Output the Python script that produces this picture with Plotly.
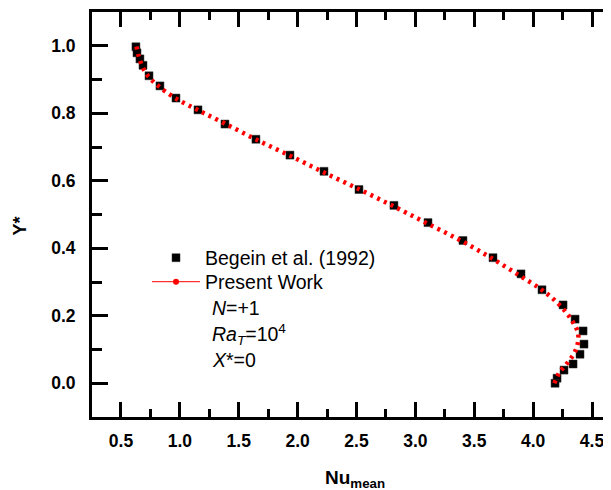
import plotly.graph_objects as go

# Begein et al. (1992) reference data
begein_nu = [0.627, 0.636, 0.661, 0.687, 0.738, 0.831, 0.967, 1.154, 1.383, 1.646,
             1.935, 2.224, 2.521, 2.818, 3.107, 3.404, 3.659, 3.897, 4.075, 4.254,
             4.356, 4.424, 4.432, 4.398, 4.339, 4.262, 4.203, 4.186]
begein_y = [0.997, 0.979, 0.961, 0.942, 0.911, 0.881, 0.845, 0.810, 0.768, 0.723,
            0.676, 0.628, 0.574, 0.527, 0.476, 0.423, 0.372, 0.324, 0.277, 0.232,
            0.190, 0.155, 0.116, 0.086, 0.057, 0.039, 0.015, 0.000]

# Present work curve
present_nu = [4.18, 4.22, 4.29, 4.35, 4.38, 4.38, 4.34, 4.28, 4.17, 4.06, 3.88, 3.65,
              3.40, 3.12, 2.84, 2.55, 2.25, 1.96, 1.66, 1.38, 1.15, 0.96, 0.82, 0.73,
              0.68, 0.65, 0.63]
present_y = [0.00, 0.03, 0.06, 0.09, 0.12, 0.15, 0.18, 0.21, 0.25, 0.28, 0.32, 0.37,
             0.42, 0.47, 0.52, 0.57, 0.62, 0.67, 0.72, 0.77, 0.81, 0.845, 0.88, 0.91,
             0.94, 0.97, 1.00]

x_ticks = [0.5, 1.0, 1.5, 2.0, 2.5, 3.0, 3.5, 4.0, 4.5]
y_ticks = [0.0, 0.2, 0.4, 0.6, 0.8, 1.0]

XR = [0.254, 4.729]
YR = [-0.1, 1.1]
FONT = "Liberation Sans, Arial, sans-serif"
LFS = 19.5

fig = go.Figure()
fig.add_trace(go.Scatter(x=begein_nu, y=begein_y, mode="markers", name="Begein et al. (1992)",
                         legend="legend",
                         marker=dict(symbol="square", size=8, color="black",
                                     line=dict(width=0.5, color="#333"))))
fig.add_trace(go.Scatter(x=present_nu, y=present_y, mode="lines", showlegend=False,
                         line=dict(color="#ff0000", width=4.5, dash="3px,4.5px", shape="spline")))
fig.add_trace(go.Scatter(x=[None], y=[None], mode="lines+markers", name="Present Work",
                         legend="legend2",
                         line=dict(color="#ff0000", width=1),
                         marker=dict(color="#ff0000", size=6)))

axis_common = dict(showgrid=False, zeroline=False, showline=True, linecolor="black",
                   linewidth=3, ticks="inside", tickcolor="black", tickwidth=2.5)

leg_common = dict(xanchor="left", yanchor="middle", bgcolor="rgba(0,0,0,0)",
                  font=dict(size=LFS, family=FONT), borderwidth=0, itemwidth=48)

fig.update_layout(
    width=611, height=482,
    margin=dict(l=84, r=0, t=4, b=73),
    plot_bgcolor="white", paper_bgcolor="white",
    font=dict(family=FONT, color="black"),
    xaxis=dict(range=XR, tickvals=x_ticks, ticktext=[f"{v:.1f}" for v in x_ticks],
               ticklen=15, ticklabelstandoff=6,
               tickfont=dict(size=17.5, weight="bold", family=FONT),
               minor=dict(dtick=0.25, tick0=0, ticks="inside", ticklen=8, tickwidth=2.5,
                          tickcolor="black"),
               **axis_common),
    xaxis2=dict(range=XR, overlaying="x", side="top", tickvals=x_ticks, showticklabels=False,
                ticklen=15,
                minor=dict(dtick=0.25, tick0=0, ticks="inside", ticklen=8, tickwidth=2.5,
                           tickcolor="black"),
                **axis_common),
    yaxis=dict(range=YR, tickvals=y_ticks, ticktext=[f"{v:.1f}" for v in y_ticks],
               ticklen=16, ticklabelstandoff=10,
               tickfont=dict(size=17.5, weight="bold", family=FONT),
               minor=dict(dtick=0.1, tick0=0, ticks="inside", ticklen=10, tickwidth=2.5,
                          tickcolor="black"),
               **axis_common),
    yaxis2=dict(range=YR, overlaying="y", side="right", tickvals=y_ticks, showticklabels=False,
                showgrid=False, zeroline=False, showline=False, ticks="inside",
                ticklen=14, tickwidth=2.5, tickcolor="black"),
    legend=dict(x=0.1044, y=0.3926, **leg_common),
    legend2=dict(x=0.1044, y=0.3333, **leg_common),
    showlegend=True,
)

# make overlay axes render
fig.add_trace(go.Scatter(x=[None], y=[None], xaxis="x2", yaxis="y2", showlegend=False,
                         hoverinfo="skip"))

ann = [
    ("<i>N</i>=+1", 0.269),
    ("<i>Ra</i><sub><i>T</i></sub>=10<sup>4</sup>", 0.2025),
    ("<i>X</i>*=0", 0.1407),
]
for txt, yy in ann:
    fig.add_annotation(text=txt, xref="paper", yref="paper", x=0.2239, y=yy,
                       xanchor="left", yanchor="middle", showarrow=False,
                       font=dict(size=LFS, family=FONT))

fig.add_annotation(text="<b>Nu<sub>mean</sub></b>", xref="paper", yref="paper",
                   x=0.499, y=-0.153, xanchor="center", yanchor="middle", showarrow=False,
                   font=dict(size=19, family=FONT))
fig.add_annotation(text="<b>Y*</b>", xref="paper", yref="paper", x=-0.136, y=0.471,
                   xanchor="center", yanchor="middle", textangle=-90, showarrow=False,
                   font=dict(size=18, family=FONT))

fig.write_html("out.html")
